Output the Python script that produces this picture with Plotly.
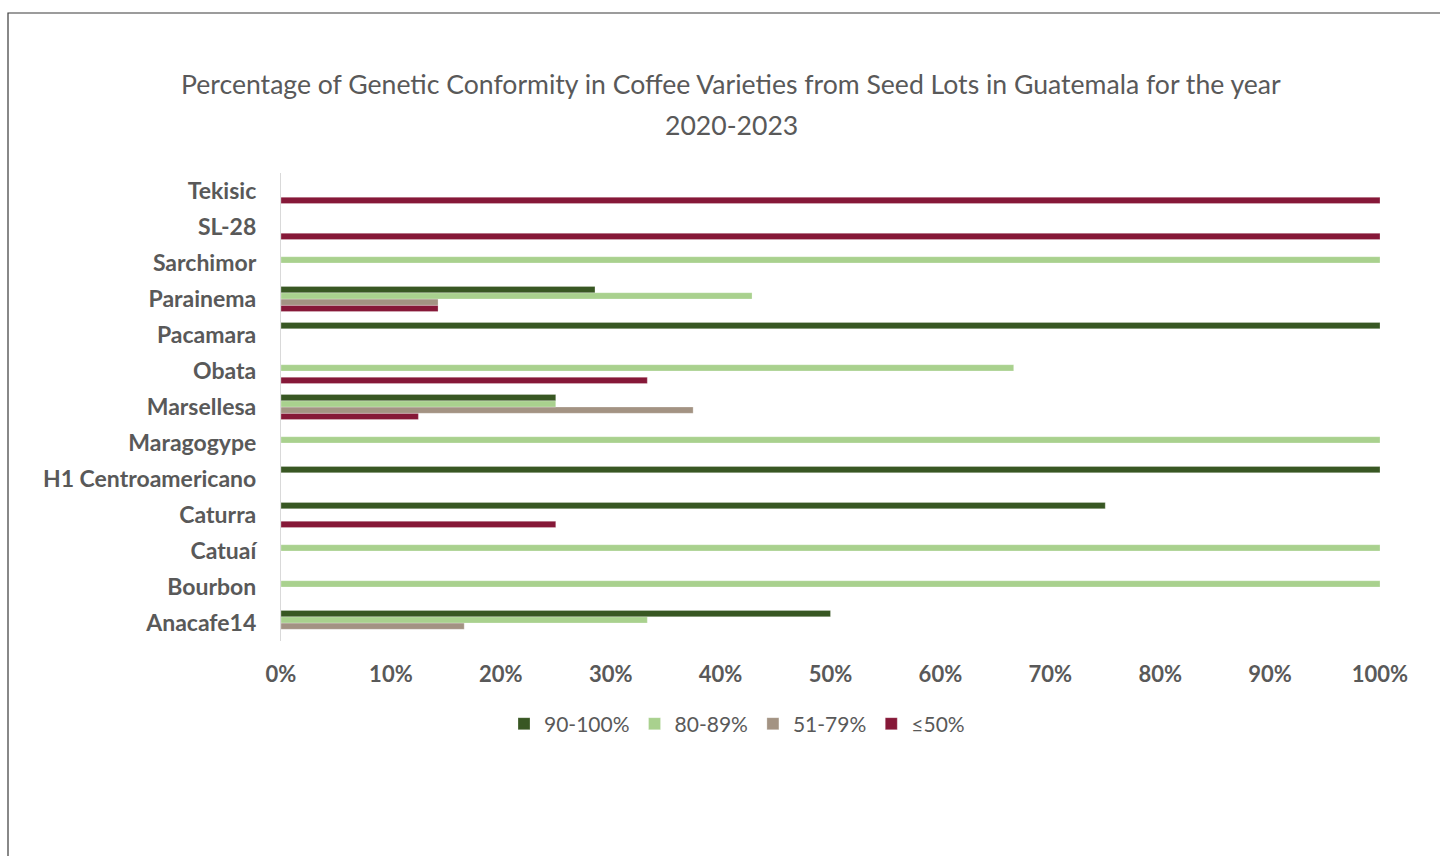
import plotly.graph_objects as go

# Coffee varieties, listed bottom to top
varieties = ["Anacafe14", "Bourbon", "Catuaí", "Caturra", "H1 Centroamericano",
             "Maragogype", "Marsellesa", "Obata", "Pacamara", "Parainema",
             "Sarchimor", "SL-28", "Tekisic"]

# Share of seed lots (%) in each genetic-conformity class
pct_90_100 = [50.0, 0, 0, 75.0, 100, 0, 25.0, 0, 100, 28.57, 0, 0, 0]
pct_80_89 = [33.33, 100, 100, 0, 0, 100, 25.0, 66.67, 0, 42.86, 100, 0, 0]
pct_51_79 = [16.67, 0, 0, 0, 0, 0, 37.5, 0, 0, 14.29, 0, 0, 0]
pct_le_50 = [0, 0, 0, 25.0, 0, 0, 12.5, 33.33, 0, 14.29, 0, 100, 100]

series_names = ["90-100%", "80-89%", "51-79%", "≤50%"]
series_values = [pct_90_100, pct_80_89, pct_51_79, pct_le_50]
series_colors = ["#385723", "#A9D18E", "#A39383", "#861838"]

x_ticks = [0, 10, 20, 30, 40, 50, 60, 70, 80, 90, 100]
x_tick_labels = [f"{v}%" for v in x_ticks]

FONT = "Lato"
GRAY = "#595959"

W, H = 1440, 856
L, R, T, B = 281, 60, 173, 215
pw, ph = W - L - R, H - T - B


def px_x(p):
    return (p - L) / pw


def px_y(p):
    return (H - B - p) / ph


fig = go.Figure()
# Added lowest class first so the 90-100% bar sits on top of each group
for name, vals, col in reversed(list(zip(series_names, series_values, series_colors))):
    fig.add_trace(go.Bar(
        y=varieties, x=vals, name=name, orientation="h",
        marker=dict(color=col, line=dict(color="rgba(255,255,255,0.5)", width=0.5)),
    ))

fig.update_layout(
    width=W, height=H,
    margin=dict(l=L, r=R, t=T, b=B, autoexpand=False),
    paper_bgcolor="white", plot_bgcolor="white",
    barmode="group", bargap=0.30, bargroupgap=0,
    font=dict(family=FONT, color=GRAY),
    showlegend=True,
    legend=dict(
        orientation="h", traceorder="reversed",
        x=px_x(737), xanchor="center", y=px_y(724), yanchor="middle",
        font=dict(family=FONT, size=21, color=GRAY),
        itemwidth=30, bgcolor="rgba(0,0,0,0)",
    ),
    xaxis=dict(
        range=[0, 100], tickvals=x_ticks, ticktext=x_tick_labels,
        showgrid=False, zeroline=False, showline=False, ticks="",
        tickfont=dict(family=FONT, size=22, color=GRAY, weight="bold"),
        ticklabelstandoff=18,
    ),
    yaxis=dict(
        type="category", categoryorder="array", categoryarray=varieties,
        showgrid=False, zeroline=False,
        showline=True, linecolor="#D9D9D9", linewidth=1.3,
        ticks="", ticklabelstandoff=19,
        tickfont=dict(family=FONT, size=23, color=GRAY, weight="bold"),
    ),
)

title_lines = [
    ("Percentage of Genetic Conformity in Coffee Varieties from Seed Lots in Guatemala for the year", 84),
    ("2020-2023", 125),
]
for text, ypix in title_lines:
    fig.add_annotation(
        text=text, xref="paper", yref="paper",
        x=px_x(731), y=px_y(ypix), xanchor="center", yanchor="middle",
        showarrow=False, font=dict(family=FONT, size=26.6, color=GRAY),
    )

# Chart frame
fig.add_shape(
    type="rect", xref="paper", yref="paper",
    x0=px_x(8), x1=px_x(1460), y0=px_y(880), y1=px_y(13),
    line=dict(color="#3A3A3A", width=1.2), fillcolor="rgba(0,0,0,0)", layer="below",
)

fig.write_html("out.html")
